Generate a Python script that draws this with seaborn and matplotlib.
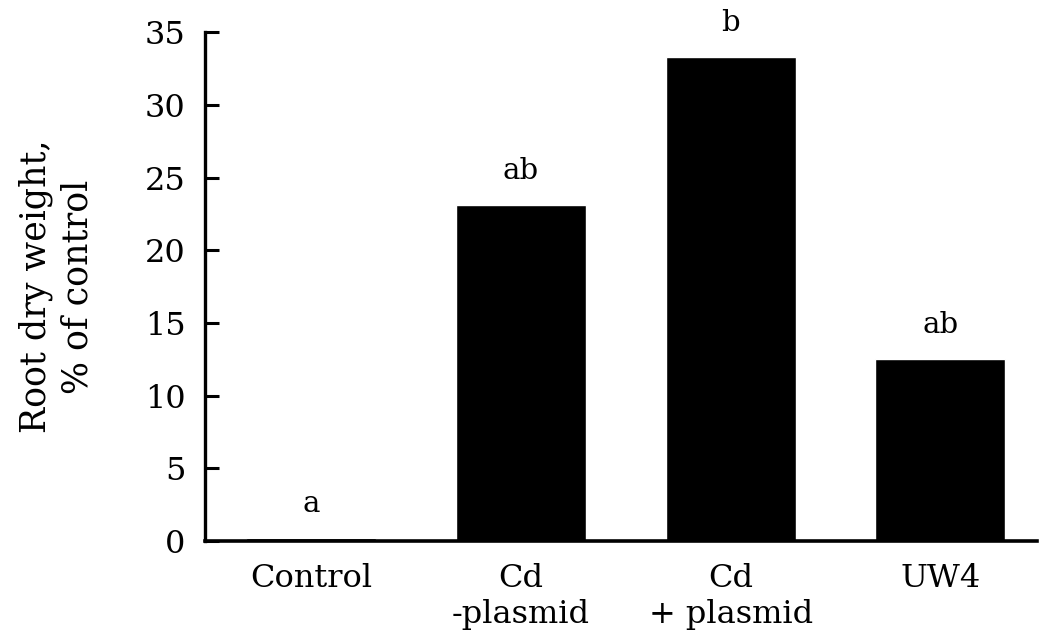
import pandas as pd
import seaborn as sns
import matplotlib.pyplot as plt

# values
groups = ['Control', 'Cd\n-plasmid', 'Cd\n+ plasmid', 'UW4']
root_weight = [0.2, 23.1, 33.3, 12.5]
letters = ['a', 'ab', 'b', 'ab']

df = pd.DataFrame({'group': groups, 'weight': root_weight})

sns.set_style('ticks')
plt.rcParams['font.family'] = ['DejaVu Serif']
plt.rcParams['text.color'] = 'black'
plt.rcParams['axes.labelcolor'] = 'black'
plt.rcParams['xtick.color'] = 'black'
plt.rcParams['ytick.color'] = 'black'
plt.rcParams['axes.edgecolor'] = 'black'

fig = plt.figure(figsize=(10.41, 6.43), dpi=100)
ax = fig.add_axes([0.197, 0.1586, 0.799, 0.7914])

sns.barplot(x='group', y='weight', data=df, ax=ax, color='black',
            width=0.62, saturation=1)

# significance letters above bars
for i, (v, lab) in enumerate(zip(root_weight, letters)):
    ax.text(i, v + 1.4, lab, ha='center', va='bottom', fontsize=21)

ax.set_ylim(0, 35)
ax.set_xlim(-0.505, 3.46)
ax.set_yticks(range(0, 36, 5))
ax.tick_params(axis='y', direction='in', length=10, width=2.2, labelsize=23, pad=14)
ax.tick_params(axis='x', length=0, labelsize=23, pad=16)
ax.set_xlabel('')
ax.set_ylabel('Root dry weight,\n% of control', fontsize=25, linespacing=1.3, labelpad=36)

sns.despine(ax=ax)
ax.spines['left'].set_linewidth(2.4)
ax.spines['bottom'].set_linewidth(2.6)

plt.savefig('out.png', dpi=100)
